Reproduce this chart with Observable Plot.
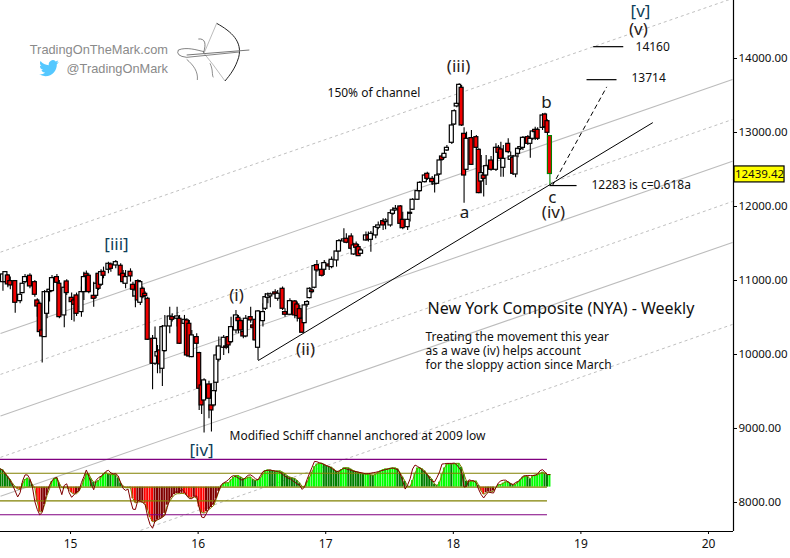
<!DOCTYPE html>
<html><head><meta charset="utf-8">
<script src="https://cdn.jsdelivr.net/npm/d3@7"></script>
<script src="https://cdn.jsdelivr.net/npm/@observablehq/plot@0.6"></script>
<style>
html,body{margin:0;padding:0;background:#fff;overflow:hidden}
#wrap{position:relative;width:790px;height:558px}
#wrap svg{display:block}
.brand{position:absolute;right:622px;font:12.8px "Liberation Sans",sans-serif;color:#8a8a8a;white-space:nowrap;line-height:16px}
</style></head><body><div id="wrap"></div>
<script>
// weekly candles, indexed from the first week on the chart
const week=[1,2,3,4,6,8,9,10,12,14,15,16,17,18,19,20,21,23,24,26,27,29,30,31,33,34,35,36,38,39,40,41,42,44,45,47,49,50,51,53,54,55,56,57,58,59,60,62,63,64,65,66,67,69,70,72,73,75,76,77,78,80,81,82,83,85,86,87,88,89,91,92,93,94,96,97,98,99,100,102,103,104,105,107,108,109,110,112,113,115,116,118,120,121,122,123,124,125,126,127,128,129,131,132,134,135,137,138,140,141,143,144,145,146,147,149,150,151,153,154,156,157,159,160,161,163,164,166,167,168,170,171,173,174,176,177,178,179,180,181,182,184,185,186,187,188,189,190,192,194,195,196,197,198,200,202,203,204,205,207,208,209,210,211,212,213,215,216,217,218,219,221,222,223,224];
const open=[10978,10978,11068,10992,10992,10721,10830,10978,11064,10978,10730,10685,10325,10235,10550,10843,10857,11046,10956,10528,10987,10766,10730,10798,10573,10843,11091,11064,10793,10793,11091,10942,11118,11145,11217,11203,11199,11091,10956,11118,10942,10784,10992,10699,10888,10820,10753,10212,9875,9974,10055,9807,10046,10379,10505,10483,10483,10415,10460,10415,9965,10235,10019,9582,9379,9595,9312,9312,9618,9929,10091,10109,10235,10167,10325,10496,10451,10303,10244,10505,10393,10469,10091,10451,10618,10766,10785,10839,10753,10888,10573,10537,10717,10676,10613,10483,10424,10672,10762,10866,10902,11208,11145,11145,11217,11181,11271,11392,11528,11564,11595,11352,11487,11451,11361,11541,11609,11550,11609,11712,11802,11789,11744,11901,11947,12001,11820,11721,11901,11956,12091,12208,12329,12442,12374,12300,12307,12433,12676,12658,12757,12861,13108,13352,13388,13604,12982,12496,12924,12937,12766,12338,12419,12419,12622,12496,12793,12771,12523,12847,12631,12658,12433,12712,12775,12793,12937,12847,12915,13036,13036,13063,13243,13153,12951];
const high=[11082,11113,11082,11046,11001,10830,11046,11082,11091,11001,10753,10708,10348,10866,10875,10888,11068,11082,11001,10978,11010,10830,10775,10830,10911,11113,11127,11091,10978,11091,11100,11145,11181,11248,11235,11271,11226,11136,11136,11158,10978,10911,11010,11001,10911,10843,10775,10258,10370,10122,10122,10393,10528,10640,10550,10640,10528,10528,10483,10460,10325,10280,10032,9650,9672,9640,9604,9650,10100,10235,10258,10226,10258,10505,10595,10528,10483,10325,10528,10640,10438,10483,10595,10685,10820,10830,10830,10875,10866,10911,10618,10753,10731,10708,10663,10505,10685,10731,10902,10888,11212,11271,11203,11271,11271,11316,11451,11555,11699,11631,11631,11505,11519,11487,11429,11654,11654,11663,11744,11789,11834,11834,11924,11983,12014,12014,11924,11924,11947,12104,12226,12338,12442,12464,12406,12352,12442,12644,12703,12757,12825,13117,13307,13523,13658,13635,13063,13005,13027,12960,12780,12690,12464,12690,12676,12847,12825,12870,12825,12915,12735,12690,12712,12811,12825,12946,12960,13005,13036,13072,13063,13252,13261,13171,12960];
const low=[10856,10956,10902,10875,10559,10685,10820,10956,10888,10775,10505,10280,9884,10235,10483,10708,10843,10956,10483,10361,10798,10460,10438,10514,10505,10730,11046,10820,10640,10753,10866,10920,11023,11091,11113,11158,10978,10956,10888,10978,10775,10631,10708,10663,10753,10730,10190,9523,9852,9740,9740,9568,10032,10280,10438,10370,10136,10370,9965,9956,9956,10010,9244,9190,8938,9132,8951,9289,9492,9897,9987,10064,10010,10145,10280,10280,10303,10212,10226,10424,10190,10167,9920,10370,10595,10685,10631,10753,10721,10595,10505,10528,10483,10438,10424,10289,10415,10640,10753,10821,10888,11113,11046,11068,11136,11158,11181,11383,11519,11496,11406,11339,11339,11325,11352,11532,11519,11383,11564,11685,11676,11685,11721,11879,11938,11699,11685,11676,11789,11947,12082,12194,12316,12352,12284,12181,12298,12419,12613,12644,12743,12838,13095,13334,13365,13081,12045,12487,12554,12766,12172,12172,12127,12284,12478,12473,12712,12397,12397,12712,12509,12419,12388,12658,12757,12757,12825,12653,12892,12892,12892,13027,13050,12960,12283];
const close=[11082,11113,10947,10933,10699,10807,10956,11046,10920,10807,10649,10303,10244,10843,10843,10875,11032,10969,10505,10902,10830,10708,10672,10550,10843,11046,11055,10843,10753,10956,10888,11113,11064,11226,11158,11248,11068,10978,11046,11055,10875,10866,10730,10978,10775,10789,10199,9875,10212,10032,9866,10370,10379,10514,10469,10514,10145,10469,9987,9974,10258,10145,9537,9312,9650,9402,9244,9505,9987,10109,10226,10091,10122,10370,10528,10451,10325,10244,10483,10460,10361,10190,10582,10573,10775,10812,10812,10812,10821,10618,10537,10721,10528,10519,10483,10294,10663,10708,10888,10843,11194,11136,11064,11235,11190,11280,11392,11532,11555,11510,11429,11474,11442,11329,11406,11609,11550,11631,11721,11744,11744,11811,11910,11947,11969,11766,11708,11820,11915,12091,12208,12320,12419,12374,12329,12325,12419,12622,12631,12712,12793,13095,13288,13388,13644,13095,12419,12915,12563,12793,12181,12451,12374,12545,12496,12793,12726,12644,12644,12735,12676,12442,12676,12780,12802,12928,12847,12915,13014,13005,12915,13230,13072,12996,12439.42];

// oscillator panel, one reading per week on its own scale (levels at +-42 and +-84)
const histogram=[55,52,42,32,23,10,2,-6,-7,10,23,27,22,8,-3,-45,-75,-75,-53,-25,-5,17,26,28,12,-2,-2,-2,-7,-17,-21,-20,-13,2,22,40,40,25,15,15,20,30,40,44,39,38,38,37,27,13,3,-2,-2,-2,-35,-48,-45,-45,-45,-50,-70,-92,-105,-105,-100,-95,-92,-80,-55,-43,-32,-23,-20,-20,-19,-20,-25,-32,-33,-30,-34,-60,-77,-79,-74,-68,-62,-55,-35,-13,3,11,13,13,22,30,35,35,30,26,26,30,30,23,20,22,28,40,50,52,51,50,48,49,49,45,41,34,30,28,26,20,12,2,2,15,30,45,62,70,72,72,69,65,62,60,54,48,46,53,58,59,58,54,50,47,45,41,40,40,40,37,36,39,44,49,53,55,55,57,58,58,55,42,30,17,3,2,20,42,58,59,55,49,39,32,23,9,5,15,38,58,70,71,70,71,72,72,60,38,18,17,18,18,18,5,-12,-22,-17,-15,-15,-12,0,7,8,12,16,16,11,6,9,15,22,30,33,32,25,34,36,37,42,45,42,38,38];
const oscillator=[55,50,40,30,19,5,-12,-30,-17,19,37,37,25,1,-44,-68,-84,-77,-43,-15,6,20,27,29,1,-23,5,10,-17,-31,-23,-15,-11,14,32,52,33,9,-8,21,29,33,39,48,51,43,40,41,34,13,-4,-10,-6,-40,-67,-68,-40,-43,-47,-54,-90,-114,-125,-103,-98,-96,-91,-86,-62,-35,-23,-15,-15,-13,-7,-14,-27,-35,-35,-28,-27,-62,-91,-93,-79,-64,-55,-46,-31,-10,7,13,17,23,31,35,32,27,22,22,30,36,37,32,25,22,35,47,50,51,52,50,49,47,45,39,33,28,26,20,15,9,6,-7,1,24,42,60,78,77,74,72,68,65,62,57,52,47,49,53,58,55,53,51,48,47,45,44,42,40,41,42,44,45,47,49,51,53,55,57,58,55,53,40,18,-6,7,25,55,67,63,58,51,45,38,25,18,16,30,46,70,71,72,72,72,73,68,58,47,0,2,22,20,19,12,-8,-23,-33,-22,-15,-17,-18,-1,13,19,21,21,15,10,8,14,17,24,33,35,35,35,35,36,40,50,53,45,38,38];
const levels=[84,42,0,-42,-84];
const levelColors=["#800080","#808000","#808000","#808000","#800080"];

// channel lines: value at the left edge (or first year) and right edge
const channelStartYear=[14.451,14.451,14.451,14.451,14.451,14.451,15.549];
const channelStartValue=[11383,10285,9731,9169,8610,8083,7623];
const channelEndYear=[20.188,20.188,20.188,20.188,20.188,20.188,20.188];
const channelEndValue=[14811,13716,13176,12613,12068,11514,10406];
const channelDashed=[true,false,true,false,true,false,true];

const trendYears=[16.473,19.561];
const trendValues=[9920,13131];
const projectionYears=[18.777,19.201];
const projectionValues=[12283,13612];
const targetValues=[12283,13714,14160];
const targetFrom=[18.754,19.044,19.096];
const targetTo=[18.966,19.279,19.332];

const yearTicks=[15,16,17,18,19,20];
const priceTicks=[8000,9000,10000,11000,12000,13000,14000];
const lastClose=12439.42;

const waveLabels=[
 ["(iii)",18.041,13892,"#2b2018"],["b",18.73,13406,"#1a1a1a"],["a",18.088,11919,"#1a1a1a"],
 ["c",18.777,12122,"#1a1a1a"],["(iv)",18.785,11919,"#2b2018"],["[iii]",15.36,11487,"#0f3f5a"],
 ["(i)",16.301,10798,"#2b2018"],["(ii)",16.842,10069,"#2b2018"],["[iv]",16.027,8704,"#0f3f5a"],
 ["[v]",19.467,14640,"#0f3f5a"],["(v)",19.451,14392,"#2b2018"]];
const noteLabels=[
 ["150% of channel",17.014,13527],["14160",19.428,14149],["13714",19.396,13730],
 ["12283 is c=0.618a",19.083,12284],["Treating the movement this year",17.782,10235],
 ["as a wave (iv) helps account",17.782,10046],["for the sloppy action since March",17.782,9852],
 ["Modified Schiff channel anchored at 2009 low",16.246,8900]];
const titleLabel=["New York Composite (NYA) - Weekly",17.798,10622];

const xDomain=[14.451,20.196], yDomain=[14784,7608];
const yearOf=w=>14.451+w*0.019224;
const halfBody=0.0157;
const indicatorY=v=>8208+v*4.45;

const candles=week.map((w,i)=>({x:yearOf(w),o:open[i],h:high[i],l:low[i],c:close[i],last:i===week.length-1}));
const hist=histogram.map((v,i)=>{
  const up=i>0&&v>=histogram[i-1];
  return {x:yearOf(i),v,fill:v>=0?(up?"#00ff00":"#008000"):(up?"#800000":"#ff0000")};
});
const channels=channelStartYear.map((x,i)=>({x1:x,y1:channelStartValue[i],x2:channelEndYear[i],y2:channelEndValue[i],dashed:channelDashed[i]}));
const targets=targetValues.map((v,i)=>({x1:targetFrom[i],x2:targetTo[i],y:v}));
const black="#101010";

const chart=Plot.plot({
  width:790,height:558,marginLeft:0,marginRight:57,marginTop:0,marginBottom:27,
  style:{fontFamily:'"Noto Sans",sans-serif',fontSize:"12px",background:"#fff",color:black},
  x:{type:"linear",domain:xDomain,axis:null},
  y:{type:"linear",domain:yDomain,range:[0,531],axis:null},
  marks:[
    Plot.link(channels.filter(d=>!d.dashed),{x1:"x1",y1:"y1",x2:"x2",y2:"y2",stroke:"#bcbcbc",strokeWidth:1.1,clip:true}),
    Plot.link(channels.filter(d=>d.dashed),{x1:"x1",y1:"y1",x2:"x2",y2:"y2",stroke:"#c0c0c0",strokeWidth:1,strokeDasharray:"3,3",clip:true}),
    Plot.rect(hist,{x1:d=>d.x-0.008,x2:d=>d.x+0.008,y1:()=>indicatorY(0),y2:d=>indicatorY(d.v),fill:"fill"}),
    Plot.ruleY(levels,{y:indicatorY,x1:14.451,x2:yearOf(223),stroke:(d,i)=>levelColors[i],strokeWidth:1.2}),
    Plot.line(hist,{x:"x",y:d=>indicatorY(d.v),stroke:"#808000",strokeWidth:1}),
    Plot.line(oscillator,{x:(d,i)=>yearOf(i),y:indicatorY,stroke:"#800000",strokeWidth:1}),
    Plot.ruleX(candles,{x:"x",y1:"l",y2:"h",stroke:d=>d.last?"#008000":"#000",strokeWidth:1.1}),
    Plot.rect(candles,{x1:d=>d.x-halfBody,x2:d=>d.x+halfBody,y1:"o",y2:"c",fill:d=>d.c<d.o?"#f00000":"#fff",stroke:d=>d.last?"#008000":"#000",strokeWidth:1.2}),
    Plot.line(trendYears.map((x,i)=>({x,y:trendValues[i]})),{x:"x",y:"y",stroke:"#000",strokeWidth:1}),
    Plot.line(projectionYears.map((x,i)=>({x,y:projectionValues[i]})),{x:"x",y:"y",stroke:"#000",strokeWidth:1,strokeDasharray:"4,4"}),
    Plot.link(targets,{x1:"x1",x2:"x2",y1:"y",y2:"y",stroke:"#000",strokeWidth:1.2}),
    Plot.text(waveLabels,{x:d=>d[1],y:d=>d[2],text:d=>d[0],fill:d=>d[3],fontSize:17,textAnchor:"middle",lineAnchor:"middle"}),
    Plot.text(noteLabels,{x:d=>d[1],y:d=>d[2],text:d=>d[0],fill:black,fontSize:12,textAnchor:"start",lineAnchor:"middle"}),
    Plot.text([titleLabel],{x:d=>d[1],y:d=>d[2],text:d=>d[0],fill:black,fontSize:16,textAnchor:"start",lineAnchor:"middle"}),
    Plot.ruleX([xDomain[1]],{stroke:"#000",strokeWidth:1.2}),
    Plot.ruleY([yDomain[1]],{stroke:"#000",strokeWidth:1.2}),
    Plot.axisX({ticks:yearTicks,tickFormat:d=>String(d),anchor:"bottom",tickSize:3,tickPadding:5,fontSize:12,stroke:"#000",fill:black,label:null}),
    Plot.axisY({ticks:priceTicks,tickFormat:d=>d.toFixed(2),anchor:"right",tickSize:3,tickPadding:2,fontSize:11.5,stroke:"#000",fill:black,label:null}),
    Plot.rect([lastClose],{x1:20.204,x2:20.596,y1:d=>d+102,y2:d=>d-114,fill:"#ffff00",stroke:"#000",strokeWidth:1.2}),
    Plot.text([lastClose],{x:20.4,y:d=>d,text:d=>d.toFixed(2),fill:black,fontSize:11.5,textAnchor:"middle",lineAnchor:"middle"})
  ]
});
const wrap=document.getElementById("wrap");
wrap.appendChild(chart);
wrap.insertAdjacentHTML("beforeend",`
<div class="brand" style="top:42px">TradingOnTheMark.com</div>
<div class="brand" style="top:61px">@TradingOnMark</div>
<svg style="position:absolute;left:39px;top:60px" width="20" height="18" viewBox="0 0 24 22"><path fill="#55c8ff" d="M23.953 2.57a10 10 0 01-2.825.775 4.958 4.958 0 002.163-2.723c-.951.555-2.005.959-3.127 1.184a4.92 4.92 0 00-8.384 4.482C7.69 6.095 4.067 4.13 1.64 1.162a4.822 4.822 0 00-.666 2.475c0 1.71.87 3.213 2.188 4.096a4.904 4.904 0 01-2.228-.616v.06a4.923 4.923 0 003.946 4.827 4.996 4.996 0 01-2.212.085 4.936 4.936 0 004.604 3.417 9.867 9.867 0 01-6.102 2.105c-.39 0-.779-.023-1.17-.067a13.995 13.995 0 007.557 2.209c9.053 0 13.998-7.496 13.998-13.985 0-.21 0-.42-.015-.63A9.935 9.935 0 0024 2.59z"/></svg>
<svg style="position:absolute;left:0;top:0" width="270" height="100" viewBox="0 0 810 300" fill="none">
<path d="M650 70C695 95 728 125 716 172C706 205 690 225 675 243" stroke="#222" stroke-width="3"/>
<path d="M650 70L612 160L640 195L675 243" stroke="#999" stroke-width="2"/>
<path d="M560 165L748 150" stroke="#777" stroke-width="3"/>
<path d="M535 150Q526 168 560 172L718 156M535 150C560 140 590 150 612 155" stroke="#444" stroke-width="2"/>
<path d="M595 117C615 115 620 130 610 160" stroke="#666" stroke-width="2.5"/>
<path d="M560 178C580 195 595 215 592 240M630 190C640 210 635 225 640 232" stroke="#555" stroke-width="2"/>
</svg>`);
</script></body></html>
